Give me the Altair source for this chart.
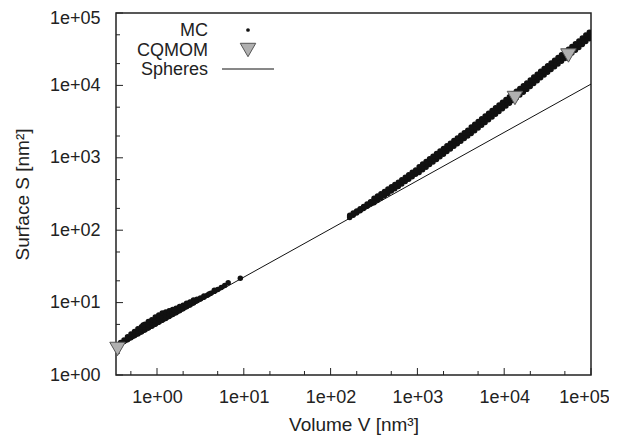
import altair as alt
import pandas as pd

# ---------------- data (log-log chart) ----------------
# MC, small-volume cluster (log10 V, log10 S)
mc_low_log10_volume = [-0.46, -0.42, -0.42, -0.38, -0.38, -0.34, -0.34, -0.30, -0.30, -0.26, -0.26,
                       -0.22, -0.22, -0.22, -0.18, -0.18, -0.18, -0.14, -0.14, -0.14,
                       -0.10, -0.10, -0.10, -0.06, -0.06, -0.06, -0.02, -0.02, -0.02,
                       0.02, 0.02, 0.02, 0.06, 0.06, 0.06, 0.10, 0.10, 0.10,
                       0.14, 0.14, 0.14, 0.18, 0.18, 0.18, 0.22, 0.22, 0.22, 0.26, 0.26, 0.26,
                       0.30, 0.30, 0.34, 0.34, 0.38, 0.38, 0.42, 0.42, 0.46, 0.46, 0.50, 0.50,
                       0.54, 0.54, 0.58, 0.62, 0.66, 0.70,
                       -0.16, 0.20, 0.38, 0.60, 0.66, 0.74, 0.78, 0.82, 0.96]
mc_low_log10_surface = [0.408, 0.435, 0.450, 0.463, 0.485, 0.488, 0.528, 0.515, 0.565, 0.541, 0.601,
                        0.568, 0.605, 0.638, 0.595, 0.630, 0.665, 0.621, 0.661, 0.701,
                        0.648, 0.693, 0.738, 0.675, 0.720, 0.765, 0.701, 0.751, 0.801,
                        0.728, 0.778, 0.828, 0.755, 0.805, 0.855, 0.781, 0.826, 0.871,
                        0.808, 0.848, 0.888, 0.835, 0.870, 0.905, 0.861, 0.891, 0.921, 0.888, 0.918, 0.948,
                        0.915, 0.965, 0.941, 0.991, 0.968, 1.008, 0.995, 1.035, 1.024, 1.045, 1.050, 1.065,
                        1.073, 1.090, 1.101, 1.128, 1.155, 1.181,
                        0.690, 0.900, 1.000, 1.120, 1.170, 1.210, 1.235, 1.275, 1.335]

# MC, large-volume band (log10 V with lower / middle / upper log10 S of the band)
band_log10_volume = [2.22, 2.26, 2.30, 2.34, 2.38, 2.42, 2.46, 2.50, 2.54, 2.58,
                     2.62, 2.66, 2.70, 2.74, 2.78, 2.82, 2.86, 2.90, 2.94, 2.98,
                     3.02, 3.06, 3.10, 3.14, 3.18, 3.22, 3.26, 3.30, 3.34, 3.38,
                     3.42, 3.46, 3.50, 3.54, 3.58, 3.62, 3.66, 3.70, 3.74, 3.78,
                     3.82, 3.86, 3.90, 3.94, 3.98, 4.02, 4.06, 4.10, 4.14, 4.18,
                     4.22, 4.26, 4.30, 4.34, 4.38, 4.42, 4.46, 4.50, 4.54, 4.58,
                     4.62, 4.66, 4.70, 4.74, 4.78, 4.82, 4.86, 4.90, 4.94, 4.98]
band_log10_surface_lower = [2.175, 2.206, 2.237, 2.268, 2.299, 2.331, 2.363, 2.380, 2.412, 2.444,
                            2.476, 2.508, 2.540, 2.572, 2.604, 2.637, 2.671, 2.705, 2.739, 2.773,
                            2.798, 2.834, 2.870, 2.906, 2.942, 2.978, 3.014, 3.050, 3.086, 3.122,
                            3.158, 3.194, 3.230, 3.266, 3.302, 3.334, 3.372, 3.410, 3.448, 3.486,
                            3.524, 3.562, 3.600, 3.638, 3.676, 3.714, 3.752, 3.790, 3.828, 3.866,
                            3.905, 3.945, 3.985, 4.025, 4.065, 4.104, 4.142, 4.180, 4.218, 4.256,
                            4.294, 4.332, 4.370, 4.408, 4.446, 4.485, 4.525, 4.565, 4.605, 4.645]
band_log10_surface_middle = [2.190, 2.221, 2.252, 2.283, 2.314, 2.346, 2.378, 2.410, 2.442, 2.474,
                             2.506, 2.538, 2.570, 2.602, 2.634, 2.667, 2.701, 2.735, 2.769, 2.803,
                             2.838, 2.874, 2.910, 2.946, 2.982, 3.018, 3.054, 3.090, 3.126, 3.162,
                             3.198, 3.234, 3.270, 3.306, 3.342, 3.379, 3.417, 3.455, 3.493, 3.531,
                             3.569, 3.607, 3.645, 3.683, 3.721, 3.759, 3.797, 3.835, 3.873, 3.911,
                             3.950, 3.990, 4.030, 4.070, 4.110, 4.149, 4.187, 4.225, 4.263, 4.301,
                             4.339, 4.377, 4.415, 4.453, 4.491, 4.530, 4.570, 4.610, 4.650, 4.690]
band_log10_surface_upper = [2.205, 2.236, 2.267, 2.298, 2.329, 2.361, 2.393, 2.440, 2.472, 2.504,
                            2.536, 2.568, 2.600, 2.632, 2.664, 2.697, 2.731, 2.765, 2.799, 2.833,
                            2.878, 2.914, 2.950, 2.986, 3.022, 3.058, 3.094, 3.130, 3.166, 3.202,
                            3.238, 3.274, 3.310, 3.346, 3.382, 3.424, 3.462, 3.500, 3.538, 3.576,
                            3.614, 3.652, 3.690, 3.728, 3.766, 3.804, 3.842, 3.880, 3.918, 3.956,
                            3.995, 4.035, 4.075, 4.115, 4.155, 4.194, 4.232, 4.270, 4.308, 4.346,
                            4.384, 4.422, 4.460, 4.498, 4.536, 4.575, 4.615, 4.655, 4.695, 4.735]

# CQMOM nodes
cqmom_volume = [0.351, 13300, 55000]
cqmom_surface = [2.29, 6700, 25900]

# Spheres reference line (end points)
sphere_volume = [0.337, 100000]
sphere_surface = [2.342, 10420]

# axis ticks
x_major_ticks = [1, 10, 100, 1000, 10000, 100000]
x_minor_ticks = [0.5, 2, 5, 20, 50, 200, 500, 2000, 5000, 20000, 50000]
y_major_ticks = [1, 10, 100, 1000, 10000, 100000]
y_minor_ticks = [2, 5, 20, 50, 200, 500, 2000, 5000, 20000, 50000]

legend_labels = ["MC", "CQMOM", "Spheres"]

# ---------------- tables ----------------
mc_log_v = mc_low_log10_volume + band_log10_volume * 3
mc_log_s = (mc_low_log10_surface + band_log10_surface_lower
            + band_log10_surface_middle + band_log10_surface_upper)
mc_df = pd.DataFrame({"V": [10 ** v for v in mc_log_v], "S": [10 ** s for s in mc_log_s]})
cq_df = pd.DataFrame({"V": cqmom_volume, "S": cqmom_surface})
sp_df = pd.DataFrame({"V": sphere_volume, "S": sphere_surface})
xmaj_df = pd.DataFrame({"V": x_major_ticks})
xmin_df = pd.DataFrame({"V": x_minor_ticks})
ymaj_df = pd.DataFrame({"S": y_major_ticks})
ymin_df = pd.DataFrame({"S": y_minor_ticks})

FONT = "Liberation Sans"
INK = "#222222"
W, H = 475, 362

xaxis = alt.Axis(values=x_major_ticks,
                 labelExpr="'1e+0' + round(log(datum.value) / LN10)",
                 ticks=False, tickSize=0, domain=False, grid=False,
                 labelFont=FONT, labelFontSize=18, labelColor=INK, labelPadding=13,
                 labelOffset={"condition": {"test": "datum.value >= 100000", "value": -7}, "value": 0},
                 labelFlush=False, labelOverlap=False,
                 title="Volume V [nm³]", titleFont=FONT, titleFontSize=19,
                 titleFontWeight="normal", titleColor=INK,
                 titleX=W / 2, titleY=49, titleBaseline="middle", titleAlign="center")
yaxis = alt.Axis(values=y_major_ticks,
                 labelExpr="'1e+0' + round(log(datum.value) / LN10)",
                 ticks=False, tickSize=0, domain=False, grid=False,
                 labelFont=FONT, labelFontSize=18, labelColor=INK, labelPadding=16,
                 labelOffset={"condition": {"test": "datum.value >= 100000", "value": 5}, "value": 0},
                 labelFlush=False, labelOverlap=False,
                 title="Surface S [nm²]", titleFont=FONT, titleFontSize=19,
                 titleFontWeight="normal", titleColor=INK, titleAngle=270,
                 titleX=-94, titleY=H / 2, titleBaseline="middle", titleAlign="center")

X = alt.X("V:Q", scale=alt.Scale(type="log", domain=[0.337, 100000], nice=False), axis=xaxis)
Y = alt.Y("S:Q", scale=alt.Scale(type="log", domain=[1, 100000], nice=False), axis=yaxis)

xmaj = alt.Chart(xmaj_df).mark_rule(color=INK, strokeWidth=1).encode(
    x=X, y=alt.value(H), y2=alt.value(H - 7))
xmin = alt.Chart(xmin_df).mark_rule(color=INK, strokeWidth=1).encode(
    x=X, y=alt.value(H), y2=alt.value(H - 4))
ymaj = alt.Chart(ymaj_df).mark_rule(color=INK, strokeWidth=1).encode(
    y=Y, x=alt.value(0), x2=alt.value(7))
ymin = alt.Chart(ymin_df).mark_rule(color=INK, strokeWidth=1).encode(
    y=Y, x=alt.value(0), x2=alt.value(4))

sphere = alt.Chart(sp_df).mark_line(color="#111111", strokeWidth=1, clip=True).encode(x=X, y=Y)
mc = alt.Chart(mc_df).mark_circle(color="#111111", size=30, opacity=1, clip=True).encode(x=X, y=Y)
cq = alt.Chart(cq_df).mark_point(shape="triangle-down", filled=True, fill="#b0b0b0",
                                 stroke="#555555", strokeWidth=1, size=240, opacity=1).encode(x=X, y=Y)

# legend (top-left, labels right-aligned before the symbols)
def legend_text(label, ypos):
    return alt.Chart(pd.DataFrame({"label": [label]})).mark_text(
        align="right", baseline="middle", font=FONT, fontSize=18, color=INK
    ).encode(x=alt.value(92), y=alt.value(ypos), text="label:N")

leg_mc_t = legend_text(legend_labels[0], 18)
leg_cq_t = legend_text(legend_labels[1], 38)
leg_sp_t = legend_text(legend_labels[2], 57)
leg_mc_s = alt.Chart(pd.DataFrame({"label": [legend_labels[0]]})).mark_circle(
    color="#111111", size=14, opacity=1).encode(x=alt.value(132), y=alt.value(17))
leg_cq_s = alt.Chart(pd.DataFrame({"label": [legend_labels[1]]})).mark_point(
    shape="triangle-down", filled=True, fill="#b0b0b0", stroke="#555555",
    strokeWidth=1, size=240, opacity=1).encode(x=alt.value(132), y=alt.value(37))
leg_sp_s = alt.Chart(pd.DataFrame({"label": [legend_labels[2]]})).mark_rule(
    color="#111111", strokeWidth=1).encode(x=alt.value(106), x2=alt.value(158), y=alt.value(56))

chart = alt.layer(
    xmaj, xmin, ymaj, ymin, sphere, mc, cq,
    leg_mc_t, leg_cq_t, leg_sp_t, leg_mc_s, leg_cq_s, leg_sp_s
).properties(
    width=W, height=H,
    autosize=alt.AutoSizeParams(type="none"),
    padding={"left": 108, "top": 5, "right": 18, "bottom": 60},
).configure_view(stroke=INK, strokeWidth=1.5)

chart.save("out.html", embed_options={"renderer": "svg", "actions": False})
